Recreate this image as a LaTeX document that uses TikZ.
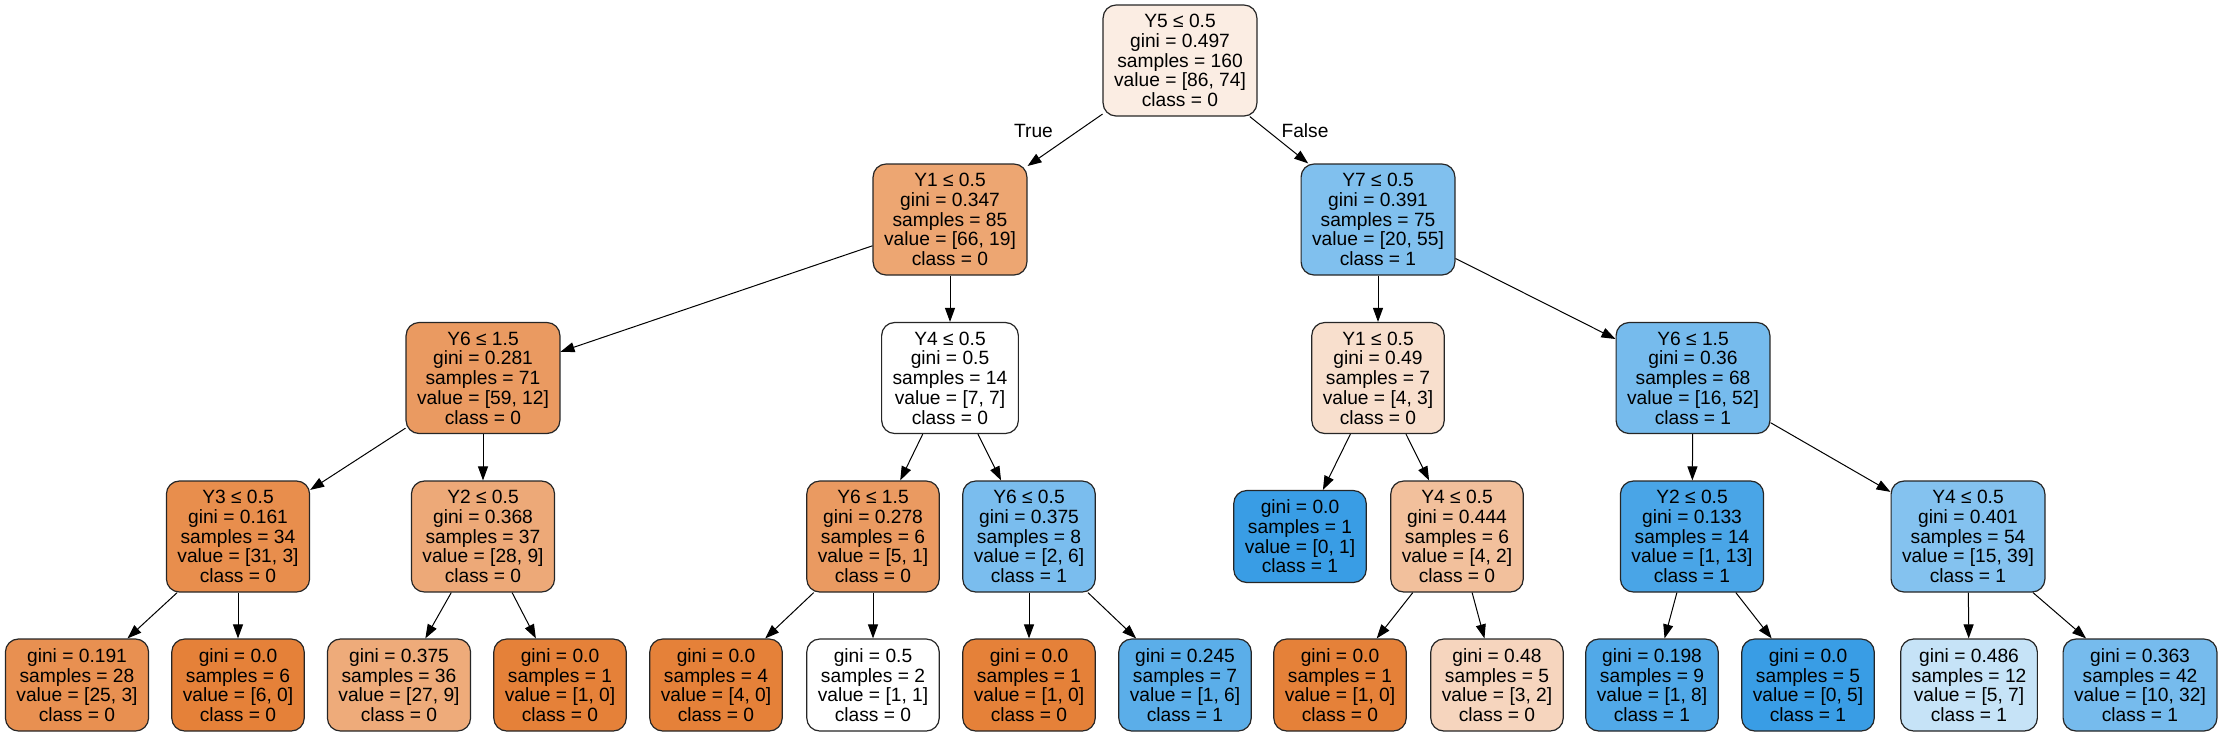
\documentclass[tikz,border=0pt]{standalone}
\usepackage{fontspec}
\setmainfont{Liberation Sans}
\usetikzlibrary{arrows.meta}
\definecolor{zero}{RGB}{229,129,57}
\definecolor{one}{RGB}{57,157,229}

\begin{document}
\begin{tikzpicture}[x=0.5pt,y=-0.5pt,
    box/.style={draw=black!85,line width=0.6pt,rounded corners=6.5pt,align=center,
      font=\fontsize{9.6}{9.85}\selectfont,inner xsep=5.5pt,inner ysep=0pt},
    split/.style={box,minimum height=55.5pt},
    leaf/.style={box,minimum height=46pt},
    edge/.style={-{Triangle[length=7pt,width=5pt]},line width=0.5pt},
    lbl/.style={font=\fontsize{9.6}{9.85}\selectfont,inner sep=0pt}]
  \useasboundingbox (0,0) rectangle (2222,736);
  % level 0 and 1
  \node[split,fill=zero!14!white] (n0) at (1180,60.5) {Y5 ≤ 0.5\\gini = 0.497\\samples = 160\\value = [86, 74]\\class = 0};
  \node[split,fill=zero!71!white] (n1) at (950,219.5) {Y1 ≤ 0.5\\gini = 0.347\\samples = 85\\value = [66, 19]\\class = 0};
  \node[split,fill=one!64!white] (n16) at (1378,219.5) {Y7 ≤ 0.5\\gini = 0.391\\samples = 75\\value = [20, 55]\\class = 1};
  % level 2
  \node[split,fill=zero!80!white] (n2) at (483,378) {Y6 ≤ 1.5\\gini = 0.281\\samples = 71\\value = [59, 12]\\class = 0};
  \node[split,fill=white] (n9) at (950,378) {Y4 ≤ 0.5\\gini = 0.5\\samples = 14\\value = [7, 7]\\class = 0};
  \node[split,fill=zero!25!white] (n17) at (1378,378) {Y1 ≤ 0.5\\gini = 0.49\\samples = 7\\value = [4, 3]\\class = 0};
  \node[split,fill=one!69!white] (n22) at (1693,378) {Y6 ≤ 1.5\\gini = 0.36\\samples = 68\\value = [16, 52]\\class = 1};
  % level 3
  \node[split,fill=zero!90!white] (n3) at (238,536.5) {Y3 ≤ 0.5\\gini = 0.161\\samples = 34\\value = [31, 3]\\class = 0};
  \node[split,fill=zero!68!white] (n6) at (483,536.5) {Y2 ≤ 0.5\\gini = 0.368\\samples = 37\\value = [28, 9]\\class = 0};
  \node[split,fill=zero!80!white] (n10) at (873,536.5) {Y6 ≤ 1.5\\gini = 0.278\\samples = 6\\value = [5, 1]\\class = 0};
  \node[split,fill=one!67!white] (n13) at (1029,536.5) {Y6 ≤ 0.5\\gini = 0.375\\samples = 8\\value = [2, 6]\\class = 1};
  \node[leaf,fill=one] (n18) at (1300,536.5) {gini = 0.0\\samples = 1\\value = [0, 1]\\class = 1};
  \node[split,fill=zero!50!white] (n19) at (1457,536.5) {Y4 ≤ 0.5\\gini = 0.444\\samples = 6\\value = [4, 2]\\class = 0};
  \node[split,fill=one!92!white] (n23) at (1692,536.5) {Y2 ≤ 0.5\\gini = 0.133\\samples = 14\\value = [1, 13]\\class = 1};
  \node[split,fill=one!62!white] (n26) at (1968,536.5) {Y4 ≤ 0.5\\gini = 0.401\\samples = 54\\value = [15, 39]\\class = 1};
  % leaves
  \node[leaf,fill=zero!88!white] (n4) at (77,685) {gini = 0.191\\samples = 28\\value = [25, 3]\\class = 0};
  \node[leaf,fill=zero] (n5) at (238,685) {gini = 0.0\\samples = 6\\value = [6, 0]\\class = 0};
  \node[leaf,fill=zero!67!white] (n7) at (399,685) {gini = 0.375\\samples = 36\\value = [27, 9]\\class = 0};
  \node[leaf,fill=zero] (n8) at (560,685) {gini = 0.0\\samples = 1\\value = [1, 0]\\class = 0};
  \node[leaf,fill=zero] (n11) at (716,685) {gini = 0.0\\samples = 4\\value = [4, 0]\\class = 0};
  \node[leaf,fill=white] (n12) at (873,685) {gini = 0.5\\samples = 2\\value = [1, 1]\\class = 0};
  \node[leaf,fill=zero] (n14) at (1029,685) {gini = 0.0\\samples = 1\\value = [1, 0]\\class = 0};
  \node[leaf,fill=one!83!white] (n15) at (1185,685) {gini = 0.245\\samples = 7\\value = [1, 6]\\class = 1};
  \node[leaf,fill=zero] (n20) at (1340,685) {gini = 0.0\\samples = 1\\value = [1, 0]\\class = 0};
  \node[leaf,fill=zero!33!white] (n21) at (1497,685) {gini = 0.48\\samples = 5\\value = [3, 2]\\class = 0};
  \node[leaf,fill=one!88!white] (n24) at (1652,685) {gini = 0.198\\samples = 9\\value = [1, 8]\\class = 1};
  \node[leaf,fill=one] (n25) at (1808,685) {gini = 0.0\\samples = 5\\value = [0, 5]\\class = 1};
  \node[leaf,fill=one!29!white] (n27) at (1969,685) {gini = 0.486\\samples = 12\\value = [5, 7]\\class = 1};
  \node[leaf,fill=one!69!white] (n28) at (2140,685) {gini = 0.363\\samples = 42\\value = [10, 32]\\class = 1};
  % edges
  \draw[edge] (n0) -- (n1);
  \draw[edge] (n0) -- (n16);
  \node[lbl] (true) at (1033.5,131) {True};
  \node[lbl] (false) at (1305,131) {False};
  \draw[edge] (n1) -- (n2);
  \draw[edge] (n1) -- (n9);
  \draw[edge] (n2) -- (n3);
  \draw[edge] (n2) -- (n6);
  \draw[edge] (n3) -- (n4);
  \draw[edge] (n3) -- (n5);
  \draw[edge] (n6) -- (n7);
  \draw[edge] (n6) -- (n8);
  \draw[edge] (n9) -- (n10);
  \draw[edge] (n9) -- (n13);
  \draw[edge] (n10) -- (n11);
  \draw[edge] (n10) -- (n12);
  \draw[edge] (n13) -- (n14);
  \draw[edge] (n13) -- (n15);
  \draw[edge] (n16) -- (n17);
  \draw[edge] (n16) -- (n22);
  \draw[edge] (n17) -- (n18);
  \draw[edge] (n17) -- (n19);
  \draw[edge] (n19) -- (n20);
  \draw[edge] (n19) -- (n21);
  \draw[edge] (n22) -- (n23);
  \draw[edge] (n22) -- (n26);
  \draw[edge] (n23) -- (n24);
  \draw[edge] (n23) -- (n25);
  \draw[edge] (n26) -- (n27);
  \draw[edge] (n26) -- (n28);
\end{tikzpicture}
\end{document}
